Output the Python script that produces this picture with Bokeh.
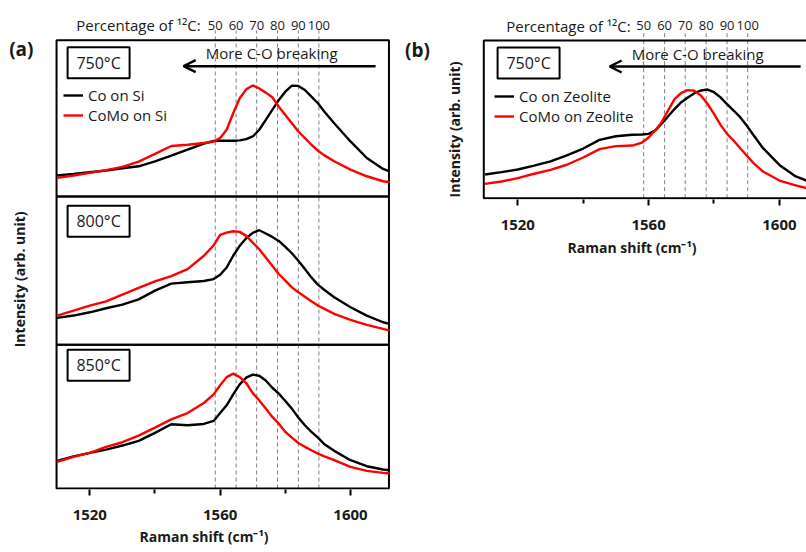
import math
from bokeh.plotting import figure
from bokeh.models import (Range1d, FixedTicker, LinearAxis, Arrow, OpenHead, Legend,
                          LegendItem, Title)
from bokeh.layouts import row
from bokeh.embed import file_html
from bokeh.resources import INLINE
from bokeh.core.properties import value

FONT = "Open Sans"

# ---------------- data ----------------
shift_a = [1510, 1515, 1520, 1525, 1530, 1535, 1540, 1545, 1550, 1555, 1558, 1560,
           1562, 1564, 1566, 1568, 1570, 1572, 1574, 1576, 1578, 1580, 1582, 1584,
           1586, 1588, 1590, 1592, 1595, 1600, 1605, 1610, 1612]

co_si_750 = [0.134, 0.144, 0.155, 0.166, 0.180, 0.193, 0.225, 0.261, 0.299, 0.338, 0.355, 0.357,
             0.357, 0.357, 0.359, 0.367, 0.384, 0.427, 0.490, 0.554, 0.618, 0.671, 0.710, 0.708,
             0.682, 0.639, 0.597, 0.543, 0.469, 0.352, 0.246, 0.176, 0.161]
como_si_750 = [0.119, 0.134, 0.151, 0.168, 0.189, 0.223, 0.272, 0.323, 0.331, 0.342, 0.352, 0.374,
               0.427, 0.533, 0.629, 0.686, 0.711, 0.692, 0.665, 0.635, 0.575, 0.522, 0.469, 0.416,
               0.374, 0.331, 0.293, 0.263, 0.225, 0.172, 0.129, 0.097, 0.091]

co_si_800 = [0.181, 0.197, 0.219, 0.246, 0.271, 0.306, 0.365, 0.412, 0.421, 0.430, 0.443, 0.472,
             0.521, 0.600, 0.667, 0.718, 0.754, 0.772, 0.750, 0.727, 0.700, 0.660, 0.617, 0.566,
             0.510, 0.454, 0.405, 0.369, 0.320, 0.253, 0.197, 0.152, 0.141]
como_si_800 = [0.197, 0.230, 0.264, 0.293, 0.338, 0.383, 0.427, 0.463, 0.510, 0.600, 0.670, 0.740,
               0.756, 0.765, 0.761, 0.734, 0.689, 0.644, 0.588, 0.532, 0.477, 0.432, 0.387, 0.354,
               0.324, 0.293, 0.264, 0.242, 0.208, 0.168, 0.134, 0.107, 0.096]

co_si_850 = [0.192, 0.224, 0.248, 0.271, 0.299, 0.331, 0.387, 0.447, 0.440, 0.449, 0.470, 0.525,
             0.579, 0.655, 0.725, 0.771, 0.792, 0.785, 0.752, 0.701, 0.660, 0.609, 0.556, 0.493,
             0.440, 0.394, 0.354, 0.308, 0.262, 0.197, 0.155, 0.132, 0.127]
como_si_850 = [0.185, 0.220, 0.248, 0.290, 0.322, 0.368, 0.424, 0.481, 0.525, 0.595, 0.655, 0.718,
               0.775, 0.799, 0.775, 0.734, 0.664, 0.613, 0.556, 0.498, 0.451, 0.394, 0.354, 0.317,
               0.290, 0.266, 0.243, 0.224, 0.197, 0.151, 0.123, 0.109, 0.104]

shift_b = [1510, 1515, 1520, 1525, 1530, 1535, 1540, 1545, 1550, 1555, 1558, 1560,
           1562, 1564, 1566, 1568, 1570, 1572, 1574, 1576, 1578, 1580, 1582, 1584,
           1586, 1588, 1590, 1592, 1595, 1600, 1605, 1608.5]
co_zeo_750 = [0.150, 0.165, 0.182, 0.207, 0.233, 0.271, 0.315, 0.370, 0.393, 0.402, 0.404, 0.408,
              0.429, 0.472, 0.520, 0.567, 0.609, 0.639, 0.666, 0.683, 0.689, 0.672, 0.639, 0.596,
              0.556, 0.514, 0.461, 0.402, 0.317, 0.211, 0.138, 0.110]
como_zeo_750 = [0.091, 0.106, 0.127, 0.155, 0.180, 0.212, 0.258, 0.311, 0.330, 0.334, 0.353, 0.385,
                0.429, 0.482, 0.558, 0.630, 0.668, 0.685, 0.681, 0.651, 0.599, 0.535, 0.465, 0.408,
                0.366, 0.317, 0.271, 0.224, 0.169, 0.112, 0.081, 0.063]

temps_a = ["750°C", "800°C", "850°C"]
series_a = [(co_si_750, como_si_750), (co_si_800, como_si_800), (co_si_850, como_si_850)]
legend_a = ["Co on Si", "CoMo on Si"]
legend_b = ["Co on Zeolite", "CoMo on Zeolite"]
pct_pos = [1558.5, 1564.9, 1571.2, 1577.6, 1584.0, 1590.3]
pct_labels = ["50", "60", "70", "80", "90", "100"]
x_ticks = [1520, 1560, 1600]
x_minor = [1540, 1580]

BLACK = "#000000"
RED = "#ff0000"
GRAY = "#808080"
TXT = "#1a1a1a"
LW = 2.4


def txt(p, x, y, s, size, bold=False, align="center", angle=0.0):
    p.text(x=[x], y=[y], text=[s], text_align=align, text_baseline="middle",
           text_font=value(FONT), text_font_size=size,
           text_font_style="bold" if bold else "normal", text_color=TXT, angle=angle)


def bottom_axis(p, title_offset, title_standoff):
    ax = LinearAxis(ticker=FixedTicker(ticks=x_ticks, minor_ticks=x_minor))
    ax.major_label_text_font = FONT
    ax.major_label_text_font_style = "bold"
    ax.major_label_text_font_size = "15px"
    ax.major_label_text_color = TXT
    ax.major_label_standoff = 14
    ax.axis_line_color = None
    ax.major_tick_line_width = 2
    ax.minor_tick_line_width = 2
    ax.major_tick_in = 0
    ax.major_tick_out = 6
    ax.minor_tick_in = 0
    ax.minor_tick_out = 4
    p.add_layout(ax, "below")
    p.add_layout(Title(text="Raman shift (cm⁻¹)", align="left", offset=title_offset,
                       text_font=FONT, text_font_size="14px", text_font_style="bold",
                       text_color=TXT, standoff=title_standoff), "below")


def pct_header(p, y_border, label_right):
    # dashed guide lines run from the bottom of the panel up to the percentage labels
    p.segment(x0=pct_pos, y0=[0] * len(pct_pos), x1=pct_pos, y1=[y_border + 10] * len(pct_pos),
              line_color=GRAY, line_width=1, line_dash="4 3")
    p.text(x=pct_pos, y=[y_border + 15] * len(pct_pos), text=pct_labels, text_align="center",
           text_baseline="middle", text_font=value(FONT), text_font_size="13px",
           text_color=TXT)
    txt(p, label_right, y_border + 15, "Percentage of ¹²C:", "15px", align="right")


def add_arrow(p, arrow_x, y_arrow, y_text, text_x):
    p.add_layout(Arrow(end=OpenHead(size=12, line_width=2.5, line_color=BLACK),
                       x_start=arrow_x[0], y_start=y_arrow, x_end=arrow_x[1], y_end=y_arrow,
                       line_width=2.5, line_color=BLACK))
    txt(p, text_x, y_text, "More C-O breaking", "15px")


def temp_box(p, x, y, t):
    p.rect(x=[x], y=[y], width=62, height=31, width_units="screen", height_units="screen",
           fill_color="white", line_color=BLACK, line_width=2)
    txt(p, x, y, t, "16px")


def legend(items, loc):
    return Legend(items=[LegendItem(label=l, renderers=[r]) for l, r in items],
                  location=loc, padding=0, margin=0, spacing=0, glyph_width=20,
                  glyph_height=20, label_height=20, label_standoff=5,
                  label_text_font=FONT, label_text_font_size="15px", label_text_color=TXT,
                  border_line_color=None, background_fill_alpha=0)


# ---------------- panel (a) ----------------
XA0, XA1 = 1509.8, 1611.8                 # frame of the stacked panels
panel_bottoms = [293.3, 144.3, 0.0]       # top, middle, bottom panel
panel_heights = [156.7, 149.0, 144.3]
box_offsets = [22.5, 25.0, 20.5]
TOP_A = 450.0

pa = figure(width=400, height=552, output_backend="svg", toolbar_location=None,
            x_axis_location=None, y_axis_location=None,
            x_range=Range1d(1492.60, 1615.34), y_range=Range1d(-1, 490),
            min_border_left=0, min_border_right=0, min_border_top=0, min_border_bottom=61)
pa.outline_line_color = None
pa.grid.visible = False
bottom_axis(pa, 139, 5)

pct_header(pa, TOP_A, 1554.0)

pa.quad(left=[XA0] * 3, right=[XA1] * 3, bottom=panel_bottoms,
        top=[b + h for b, h in zip(panel_bottoms, panel_heights)],
        fill_color=None, line_color=BLACK, line_width=2)

legend_renderers = []
for i, (blk, red) in enumerate(series_a):
    b0, h = panel_bottoms[i], panel_heights[i]
    rb = pa.line(shift_a, [b0 + v * h for v in blk], line_color=BLACK, line_width=LW)
    rr = pa.line(shift_a, [b0 + v * h for v in red], line_color=RED, line_width=LW)
    if i == 0:
        legend_renderers = [rb, rr]
    temp_box(pa, 1522.7, b0 + h - box_offsets[i], temps_a[i])

add_arrow(pa, (1607.7, 1548.8), 424, 437, 1575.8)
txt(pa, 1499.0, 441, "(a)", "19px", bold=True)
txt(pa, 1498.4, 210, "Intensity (arb. unit)", "14px", bold=True, angle=math.pi / 2)
pa.add_layout(legend(zip(legend_a, legend_renderers), (63, 364)))

# ---------------- panel (b) ----------------
H_B = 157.7
XB0, XB1 = 1509.6, 1608.29
pb = figure(width=406, height=262, output_backend="svg", toolbar_location=None,
            x_axis_location=None, y_axis_location=None,
            x_range=Range1d(1484.13, XB1), y_range=Range1d(-1.3, 197.7),
            min_border_left=0, min_border_right=0, min_border_top=0, min_border_bottom=63)
pb.outline_line_color = None
pb.grid.visible = False
bottom_axis(pb, 167, 7)

pct_header(pb, H_B, 1554.5)
pb.line(x=[XB1, XB0, XB0, XB1], y=[H_B, H_B, 0, 0], line_color=BLACK, line_width=2)

rbk = pb.line(shift_b, [v * H_B for v in co_zeo_750], line_color=BLACK, line_width=LW)
rrd = pb.line(shift_b, [v * H_B for v in como_zeo_750], line_color=RED, line_width=LW)
temp_box(pb, 1523.3, H_B - 22.5, "750°C")
add_arrow(pb, (1606.5, 1548.1), 131.7, 144.7, 1575.0)
txt(pb, 1489.3, 148.7, "(b)", "19px", bold=True)
txt(pb, 1500.5, 68.7, "Intensity (arb. unit)", "14px", bold=True, angle=math.pi / 2)
pb.add_layout(legend(zip(legend_b, [rbk, rrd]), (94, 73)))

layout = row(pa, pb, spacing=0)
open("out.html", "w").write(file_html(layout, INLINE))
